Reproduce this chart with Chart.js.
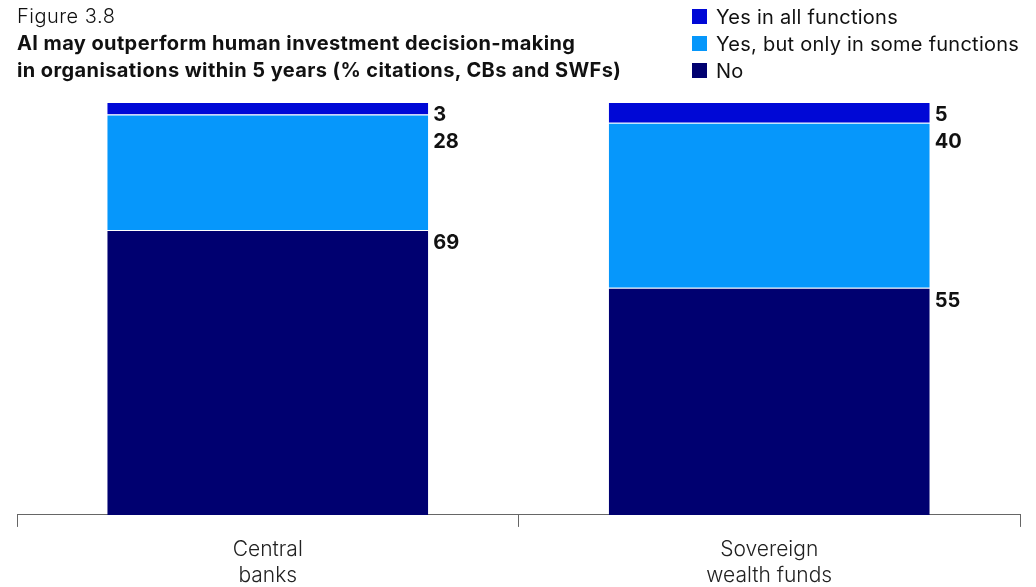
<!DOCTYPE html>
<html>
<head>
<meta charset="utf-8">
<script src="https://cdn.jsdelivr.net/npm/chart.js@4.4.1/dist/chart.umd.min.js"></script>
<style>
  html, body { margin: 0; padding: 0; background: #fff; }
  body { width: 1036px; height: 587px; position: relative; overflow: hidden; font-family: "Inter", "Roboto", sans-serif; color: #111; }
  #wrap { position: absolute; left: 0; top: 0; width: 1036px; height: 599px; }
  .fig { position: absolute; left: 17px; top: 4px; font-size: 20px; font-weight: 300; letter-spacing: 0.5px; }
  .title { position: absolute; left: 17px; top: 30px; font-size: 20px; font-weight: 700; line-height: 27px; letter-spacing: 0.4px; }
  #legend { position: absolute; left: 692px; top: 3px; font-size: 20px; font-weight: 400; letter-spacing: 0.25px; }
  .lg-item { height: 27px; display: flex; align-items: center; }
  .lg-box { width: 15px; height: 15px; margin-right: 9px; }
</style>
</head>
<body>
<div id="wrap"><canvas id="chart"></canvas></div>
<div class="fig">Figure 3.8</div>
<div class="title">AI may outperform human investment decision-making<br>in organisations within 5 years (% citations, CBs and SWFs)</div>
<div id="legend"></div>
<script>
// categorías y valores (% de citas)
const categories = [["Central", "banks"], ["Sovereign", "wealth funds"]];
const seriesNames = ["No", "Yes, but only in some functions", "Yes in all functions"];
const noValues = [69, 55];
const someValues = [28, 40];
const allValues = [3, 5];
const seriesColors = ["#000070", "#0697fb", "#0008d6"];

const datasets = [noValues, someValues, allValues].map((vals, i) => ({
  label: seriesNames[i],
  data: vals,
  backgroundColor: seriesColors[i],
  borderColor: "#ffffff",
  borderWidth: { top: 1, bottom: 0, left: 0, right: 0 },
  borderSkipped: false,
  barPercentage: 0.8,
  categoryPercentage: 0.8,
}));

// leyenda en html, orden inverso al apilado
document.getElementById("legend").innerHTML = datasets
  .slice()
  .reverse()
  .map((d) => `<div class="lg-item"><span class="lg-box" style="background:${d.backgroundColor}"></span>${d.label}</div>`)
  .join("");

// números a la derecha de cada tramo, empujados hacia abajo si se pisan
const sideLabels = {
  id: "sideLabels",
  afterDatasetsDraw(chart) {
    const ctx = chart.ctx;
    ctx.save();
    ctx.font = "700 20px Inter, Roboto, sans-serif";
    ctx.fillStyle = "#111";
    ctx.textBaseline = "middle";
    ctx.textAlign = "left";
    categories.forEach((_, idx) => {
      let prev = -Infinity;
      for (let ds = chart.data.datasets.length - 1; ds >= 0; ds--) {
        const bar = chart.getDatasetMeta(ds).data[idx];
        const x = bar.x + bar.width / 2 + 5;
        const y = Math.max(bar.y + 13, prev + 27);
        ctx.fillText(String(chart.data.datasets[ds].data[idx]), x, y);
        prev = y;
      }
    });
    ctx.restore();
  },
};

new Chart(document.getElementById("chart"), {
  type: "bar",
  data: { labels: categories, datasets },
  plugins: [sideLabels],
  options: {
    responsive: true,
    maintainAspectRatio: false,
    animation: false,
    layout: { padding: { left: 17, right: 16, top: 102, bottom: 0 } },
    plugins: { legend: { display: false }, tooltip: { enabled: false } },
    scales: {
      x: {
        stacked: true,
        grid: { offset: true, drawOnChartArea: false, drawTicks: true, tickLength: 12, color: "#666", lineWidth: 1 },
        border: { display: true, color: "#666", width: 1 },
        ticks: { color: "#222", padding: 10, font: { family: "Inter, Roboto, sans-serif", size: 21, weight: 300, lineHeight: 1.24 } },
      },
      y: { stacked: true, display: false, min: 0, max: 100 },
    },
  },
});
</script>
</body>
</html>
